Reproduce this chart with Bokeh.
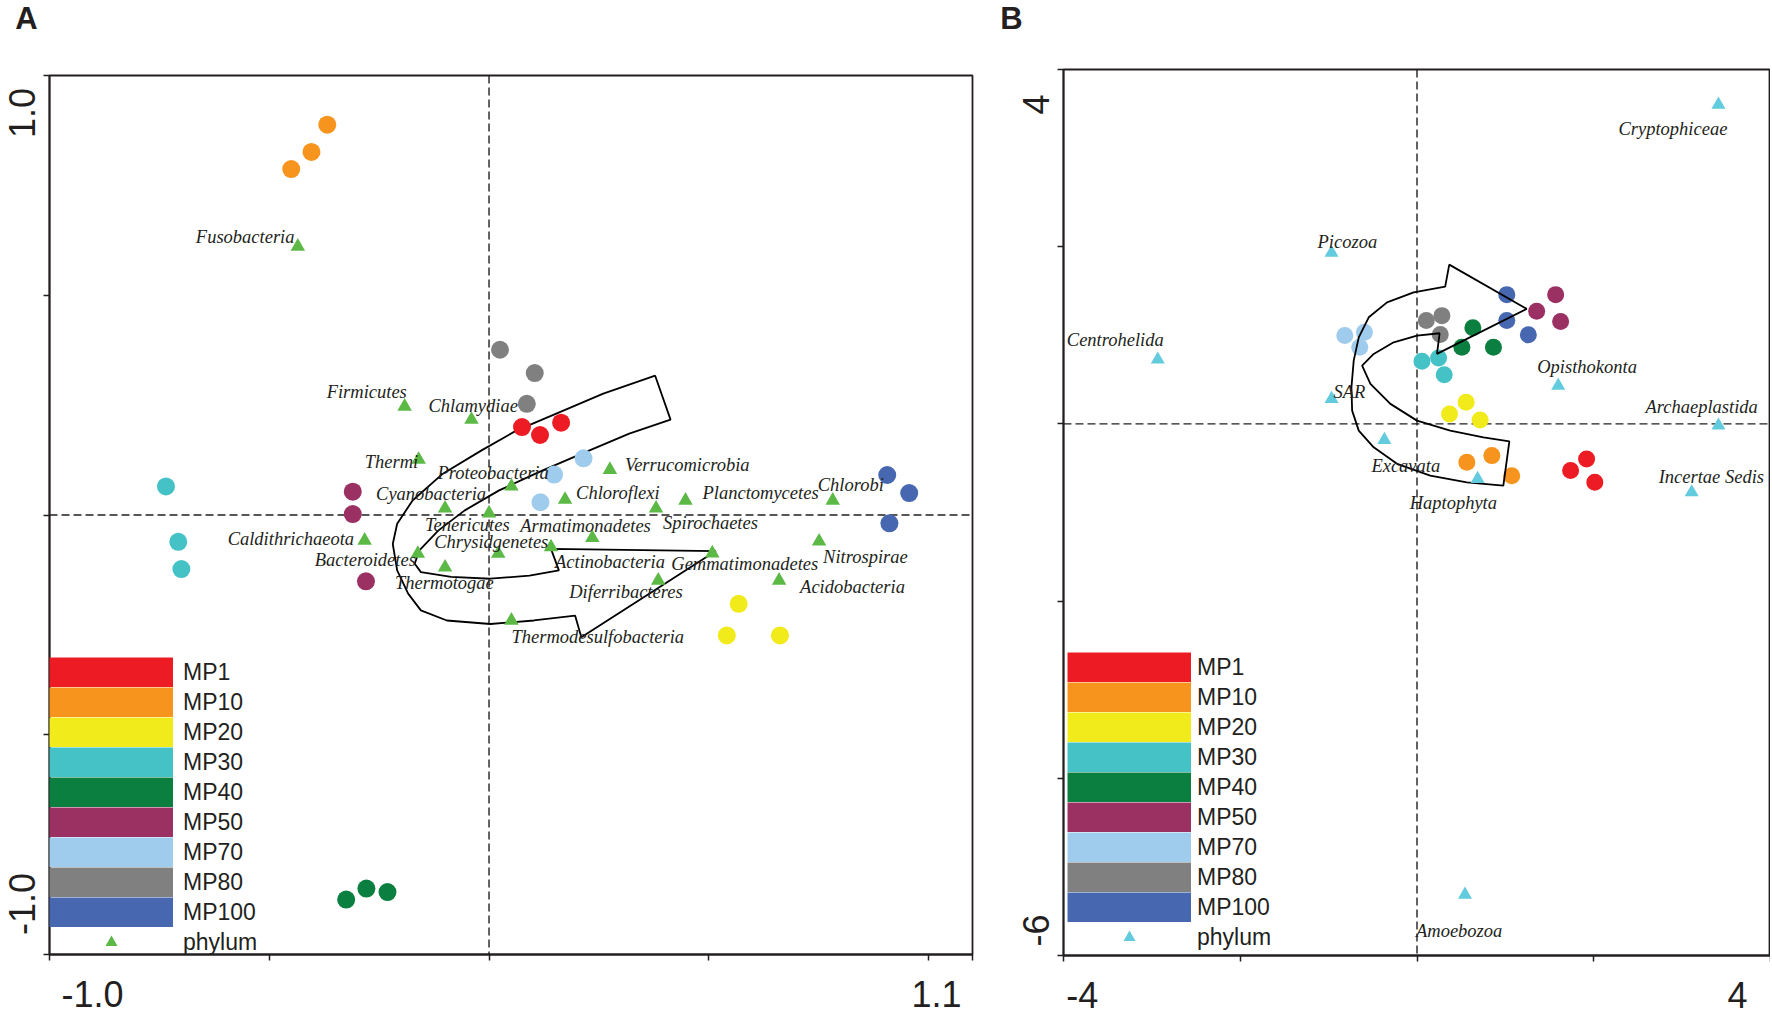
import math
from bokeh.plotting import figure
from bokeh.models import (ColumnDataSource, Span, FixedTicker, LinearAxis,
                          CustomJSTickFormatter, Legend, LegendItem)
from bokeh.layouts import row, column
from bokeh.embed import file_html
from bokeh.resources import INLINE
from bokeh.core.properties import value

# ---------------- data ----------------
GROUPS = ["MP1", "MP10", "MP20", "MP30", "MP40", "MP50", "MP70", "MP80", "MP100"]
GROUP_COLORS = ["#ED1C24", "#F7941D", "#F2EB1B", "#45C2C6", "#0B7F40",
                "#9B3163", "#9FCBEC", "#808080", "#4767B0"]

# Panel A (bacteria) sample scores, three replicates per group
A_SAMPLE_X = {
    "MP1": [0.075, 0.116, 0.164],
    "MP10": [-0.368, -0.404, -0.450],
    "MP20": [0.568, 0.541, 0.662],
    "MP30": [-0.735, -0.707, -0.700],
    "MP40": [-0.325, -0.279, -0.231],
    "MP50": [-0.310, -0.310, -0.280],
    "MP70": [0.215, 0.148, 0.117],
    "MP80": [0.025, 0.104, 0.086],
    "MP100": [0.906, 0.956, 0.911],
}
A_SAMPLE_Y = {
    "MP1": [0.200, 0.182, 0.210],
    "MP10": [0.888, 0.826, 0.787],
    "MP20": [-0.202, -0.274, -0.274],
    "MP30": [0.065, -0.061, -0.123],
    "MP40": [-0.875, -0.850, -0.858],
    "MP50": [0.053, 0.002, -0.151],
    "MP70": [0.129, 0.092, 0.029],
    "MP80": [0.376, 0.323, 0.253],
    "MP100": [0.091, 0.050, -0.019],
}
A_PHYLA = ["Fusobacteria", "Firmicutes", "Chlamydiae", "Thermi", "Proteobacteria",
           "Verrucomicrobia", "Cyanobacteria", "Chloroflexi", "Planctomycetes",
           "Chlorobi", "Spirochaetes", "Tenericutes", "Armatimonadetes",
           "Caldithrichaeota", "Nitrospirae", "Bacteroidetes", "Chrysidgenetes",
           "Actinobacteria", "Thermotogae", "Gemmatimonadetes", "Diferribacteres",
           "Acidobacteria", "Thermodesulfobacteria"]
A_PHYLA_X = [-0.435, -0.192, -0.040, -0.160, 0.051, 0.275, -0.100, 0.173, 0.447,
             0.782, 0.380, 0.000, 0.235, -0.283, 0.751, -0.162, 0.021, 0.141,
             -0.100, 0.508, 0.385, 0.660, 0.051]
A_PHYLA_Y = [0.611, 0.247, 0.217, 0.126, 0.065, 0.103, 0.015, 0.035, 0.033,
             0.033, 0.015, 0.004, -0.052, -0.058, -0.060, -0.088, -0.088, -0.073,
             -0.119, -0.087, -0.149, -0.149, -0.240]

# Panel B (eukaryotes) sample scores
B_SAMPLE_X = {
    "MP1": [1.738, 1.919, 2.012],
    "MP10": [0.564, 0.847, 1.072],
    "MP20": [0.556, 0.368, 0.714],
    "MP30": [0.056, 0.244, 0.308],
    "MP40": [0.632, 0.508, 0.865],
    "MP50": [1.354, 1.569, 1.625],
    "MP70": [-0.817, -0.595, -0.648],
    "MP80": [0.105, 0.282, 0.263],
    "MP100": [1.016, 1.016, 1.260],
}
B_SAMPLE_Y = {
    "MP1": [-0.527, -0.395, -0.659],
    "MP10": [-0.433, -0.358, -0.584],
    "MP20": [0.244, 0.113, 0.045],
    "MP30": [0.707, 0.745, 0.556],
    "MP40": [1.084, 0.865, 0.865],
    "MP50": [1.271, 1.459, 1.155],
    "MP70": [0.997, 1.034, 0.865],
    "MP80": [1.166, 1.222, 1.008],
    "MP100": [1.459, 1.166, 1.005],
}
B_PHYLA = ["Cryptophiceae", "Picozoa", "Centrohelida", "SAR", "Opisthokonta",
           "Archaeplastida", "Excavata", "Incertae Sedis", "Haptophyta", "Amoebozoa"]
B_PHYLA_X = [3.411, -0.967, -2.933, -0.967, 1.598, 3.411, -0.369, 3.108, 0.686, 0.543]
B_PHYLA_Y = [3.604, 1.932, 0.726, 0.282, 0.432, -0.019, -0.181, -0.772, -0.621, -5.313]

# Curved trend arrows (outline vertices, data units)
ARROW_A_X = [0.378, 0.260, 0.161, 0.062, -0.017, -0.105, -0.174, -0.209, -0.219,
             -0.209, -0.184, -0.155, -0.096, 0.003, 0.102, 0.196, 0.210, 0.516,
             0.141, 0.159, 0.092, 0.003, -0.086, -0.155, -0.169, -0.159, -0.115,
             -0.056, 0.023, 0.121, 0.210, 0.319, 0.413]
ARROW_A_Y = [0.317, 0.276, 0.234, 0.192, 0.147, 0.094, 0.033, -0.020, -0.066,
             -0.126, -0.179, -0.217, -0.240, -0.248, -0.240, -0.229, -0.278, -0.082,
             -0.077, -0.126, -0.138, -0.145, -0.141, -0.130, -0.111, -0.081, -0.035,
             0.010, 0.056, 0.101, 0.139, 0.185, 0.217]
ARROW_B_X = [0.365, 1.241, 0.226, 0.256, 0.000, -0.264, -0.490, -0.621, -0.527,
             -0.301, 0.000, 0.376, 0.752, 1.045, 0.977, 0.564, 0.150, -0.226,
             -0.490, -0.659, -0.734, -0.742, -0.716, -0.659, -0.546, -0.339,
             -0.038, 0.319]
ARROW_B_Y = [1.798, 1.298, 0.790, 1.023, 0.997, 0.921, 0.790, 0.658, 0.451,
             0.226, 0.037, -0.076, -0.151, -0.196, -0.696, -0.659, -0.583, -0.451,
             -0.264, -0.076, 0.150, 0.413, 0.714, 0.977, 1.203, 1.372, 1.485, 1.550]

# tick marks and end labels ([negative end, positive end])
A_XTICKS = [-1.0, -0.5, 0.0, 0.5, 1.0, 1.1]
A_YTICKS = [-1.0, -0.5, 0.0, 0.5, 1.0]
B_XTICKS = [-4, -2, 0, 2, 4]
B_YTICKS = [-6, -4, -2, 0, 2, 4]
A_XLABELS = ["-1.0", "1.1"]
A_YLABELS = ["-1.0", "1.0"]
B_XLABELS = ["-4", "4"]
B_YLABELS = ["-6", "4"]
PANEL_LETTERS = ["A", "B"]

# ---------------- layout / style ----------------
A_XLABEL_POS = [-0.902, 1.018]      # data units along each axis
A_YLABEL_POS = [-0.885, 0.9145]
B_XLABEL_POS = [-3.789, 3.628]
B_YLABEL_POS = [-5.719, 3.604]

A_LABEL_DX = [-102, -78, -43, -54, -74, 15, -69, 11, 17, -15, 7, -64, -72, -137, 4,
              -103, -64, 4, -50, -41, -89, 21, 0]
A_LABEL_DY = [-9, -14, -14, 2, -13, -5, -14, -7, -7, -15, 15, 12, -12, -1, 16, 6,
              -12, 15, 16, 11, 12, 7, 17]
B_LABEL_DX = [-100, -14, -91, 2, -21, -73, -13, -33, -68, -49]
B_LABEL_DY = [24, -11, -20, -7, -19, -19, 26, -15, 24, 36]

TXT = "#231F20"
SANS = "Liberation Sans"
SERIF = "Liberation Serif"

# pixel geometry
A_TOP, A_FH, A_BOT, A_FW, A_RIGHT = 75, 879, 64, 923, 27
B_TOP, B_FH, B_BOT, B_FW, B_RIGHT = 69, 886, 62, 707, 0
TICK_BORDER = 7
STRIP_A_W, STRIP_B_W = 42, 57


def style_axes(p, xticks, yticks):
    p.xgrid.visible = False
    p.ygrid.visible = False
    p.outline_line_color = TXT
    p.outline_line_width = 1.8
    p.background_fill_color = "white"
    p.border_fill_color = "white"
    for ax, ticks in ((p.xaxis[0], xticks), (p.yaxis[0], yticks)):
        ax.ticker = FixedTicker(ticks=ticks, minor_ticks=[])
        ax.formatter = CustomJSTickFormatter(code="return '';")
        ax.major_label_text_font_size = "0px"
        ax.major_tick_out = 6
        ax.major_tick_in = 0
        ax.minor_tick_line_color = None
        ax.axis_line_width = 1.8
        ax.axis_line_color = TXT
        ax.major_tick_line_width = 1.5
        ax.major_tick_line_color = TXT
        ax.major_label_standoff = 0


def add_xlabel_axis(p, ticks, labels, standoff):
    ax = LinearAxis(
        ticker=FixedTicker(ticks=ticks, minor_ticks=[]),
        formatter=CustomJSTickFormatter(args=dict(labels=labels),
                                        code="return tick < 0 ? labels[0] : labels[1];"),
        axis_line_color=None, major_tick_line_color=None, minor_tick_line_color=None,
        major_tick_in=0, major_tick_out=0, major_label_standoff=standoff,
        major_label_text_font=SANS, major_label_text_font_size="36px",
        major_label_text_color=TXT)
    p.add_layout(ax, "below")


def build_panel(p, sx, sy, phyla, px, py, ldx, ldy, tri_color, tri_size, dot_size,
                arrow_x, arrow_y, arrow_on_top, legend_loc, standoff):
    p.add_layout(Span(location=0, dimension="height", line_dash="8 4",
                      line_width=1.4, line_color=TXT, level="underlay"))
    p.add_layout(Span(location=0, dimension="width", line_dash="8 4",
                      line_width=1.4, line_color=TXT, level="underlay"))
    if not arrow_on_top:
        p.patch(arrow_x, arrow_y, fill_color=None, line_color="black", line_width=1.8)
    for g, c in zip(GROUPS, GROUP_COLORS):
        p.scatter(sx[g], sy[g], marker="circle", size=dot_size, fill_color=c,
                  line_color=None)
    if arrow_on_top:
        p.patch(arrow_x, arrow_y, fill_color=None, line_color="black", line_width=1.8)
    src = ColumnDataSource(dict(x=px, y=py, name=phyla, dx=ldx, dy=ldy))
    tri = p.scatter("x", "y", source=src, marker="triangle", size=tri_size,
                    fill_color=tri_color, line_color=None)
    p.text(x="x", y="y", text="name", x_offset="dx", y_offset="dy", source=src,
           text_font=value(SERIF), text_font_style="italic", text_font_size="18.5px",
           text_align="left", text_baseline="alphabetic", text_color=TXT)
    items = []
    nan = float("nan")
    for g, c in zip(GROUPS, GROUP_COLORS):
        # legend swatch only: a thick butt-capped line gives a full colour bar
        r = p.line(x=[nan], y=[nan], line_color=c, line_width=30, line_cap="butt")
        items.append(LegendItem(label=g, renderers=[r]))
    items.append(LegendItem(label="phylum", renderers=[tri]))
    leg = Legend(items=items, location=legend_loc, orientation="vertical",
                 glyph_width=124, glyph_height=30, spacing=0, padding=0, margin=0,
                 label_standoff=standoff, label_text_font=SANS,
                 label_text_font_size="23px", label_text_color=TXT,
                 label_text_baseline="middle",
                 border_line_color=None, background_fill_alpha=0.0)
    p.add_layout(leg)


def make_strip(width, height, y0, y1, label_x, label_pos, labels, letter_xy, letter):
    s = figure(x_range=(0, 1), y_range=(y0, y1), frame_width=width, frame_height=height,
               min_border_left=0, min_border_right=0, min_border_top=0,
               min_border_bottom=0, x_axis_type=None, y_axis_type=None,
               output_backend="svg", toolbar_location=None)
    s.outline_line_color = None
    s.xgrid.visible = False
    s.ygrid.visible = False
    s.background_fill_color = "white"
    s.border_fill_color = "white"
    s.text(x=[label_x] * len(labels), y=label_pos, text=labels, angle=math.pi / 2,
           text_font=value(SANS), text_font_size="36px", text_align="center",
           text_baseline="middle", text_color=TXT)
    s.text(x=[letter_xy[0]], y=[letter_xy[1]], text=[letter], text_font=value(SANS),
           text_font_size="31px", text_font_style="bold", text_align="center",
           text_baseline="middle", text_color=TXT)
    return s


# ---------------- panel A ----------------
pa = figure(x_range=(-1.0, 1.1), y_range=(-1.0, 1.0), frame_width=A_FW, frame_height=A_FH,
            min_border_left=TICK_BORDER, min_border_right=A_RIGHT, min_border_top=A_TOP,
            min_border_bottom=A_BOT, output_backend="svg", toolbar_location=None)
style_axes(pa, A_XTICKS, A_YTICKS)
build_panel(pa, A_SAMPLE_X, A_SAMPLE_Y, A_PHYLA, A_PHYLA_X, A_PHYLA_Y,
            A_LABEL_DX, A_LABEL_DY, "#5DB946", 14.5, 18, ARROW_A_X, ARROW_A_Y,
            False, (0, -3), 10)
add_xlabel_axis(pa, A_XLABEL_POS, A_XLABELS, 20)

a_ppu = A_FH / 2.0
strip_a = make_strip(STRIP_A_W, A_TOP + A_FH + A_BOT, -1.0 - A_BOT / a_ppu,
                     1.0 + A_TOP / a_ppu, 0.5, A_YLABEL_POS, A_YLABELS,
                     (0.619, 1.1286), PANEL_LETTERS[0])

# ---------------- panel B ----------------
pb = figure(x_range=(-4, 4), y_range=(-6, 4), frame_width=B_FW, frame_height=B_FH,
            min_border_left=TICK_BORDER, min_border_right=B_RIGHT, min_border_top=B_TOP,
            min_border_bottom=B_BOT, output_backend="svg", toolbar_location=None)
style_axes(pb, B_XTICKS, B_YTICKS)
build_panel(pb, B_SAMPLE_X, B_SAMPLE_Y, B_PHYLA, B_PHYLA_X, B_PHYLA_Y,
            B_LABEL_DX, B_LABEL_DY, "#62CBDD", 14, 17, ARROW_B_X, ARROW_B_Y,
            True, (4, 3), 6)
add_xlabel_axis(pb, B_XLABEL_POS, B_XLABELS, 20)

b_ppu = B_FH / 10.0
strip_b = make_strip(STRIP_B_W, B_TOP + B_FH + B_BOT, -6.0 - B_BOT / b_ppu,
                     4.0 + B_TOP / b_ppu, 0.632, B_YLABEL_POS, B_YLABELS,
                     (0.211, 4.570), PANEL_LETTERS[1])

layout = row(column(strip_a), column(pa), column(strip_b), column(pb))
open("out.html", "w").write(file_html(layout, INLINE))
